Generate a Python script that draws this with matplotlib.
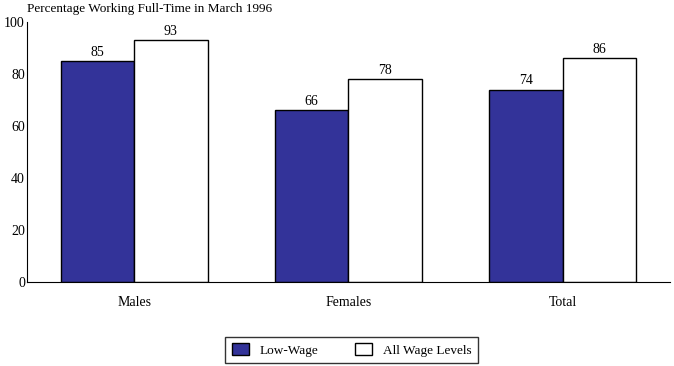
import matplotlib.pyplot as plt
import numpy as np

plt.rcParams['font.family'] = ['Liberation Serif', 'DejaVu Serif']

groups = ['Males', 'Females', 'Total']
low_wage = [85, 66, 74]
all_wage = [93, 78, 86]

fig = plt.figure(figsize=(6.74, 3.66), dpi=100)
ax = fig.add_axes([0.04, 0.2295, 0.954, 0.7105])

x = np.arange(len(groups))
w = 0.343
b1 = ax.bar(x - w / 2, low_wage, w, color='#333399', edgecolor='black', linewidth=1, label='Low-Wage')
b2 = ax.bar(x + w / 2, all_wage, w, color='white', edgecolor='black', linewidth=1, label='All Wage Levels')

for bars, vals in ((b1, low_wage), (b2, all_wage)):
    for b, v in zip(bars, vals):
        ax.text(b.get_x() + b.get_width() / 2, v + 0.8, str(v), ha='center', va='bottom', fontsize=10)

ax.set_xlim(-0.5, 2.5)
ax.set_ylim(0, 100)
ax.set_yticks([0, 20, 40, 60, 80, 100])
ax.set_xticks(x)
ax.set_xticklabels(groups)
ax.tick_params(length=0, labelsize=10)
ax.tick_params(axis='x', pad=10)
ax.tick_params(axis='y', pad=1.5)
ax.spines['top'].set_visible(False)
ax.spines['right'].set_visible(False)

fig.text(0.04, 0.975, 'Percentage Working Full-Time in March 1996', fontsize=9.5, va='center', ha='left')

leg = fig.legend(loc='center', bbox_to_anchor=(0.5215, 0.0437), ncol=2, frameon=True,
                 fancybox=False, edgecolor='black', fontsize=9.5, columnspacing=2.8,
                 handlelength=1.3, handleheight=1.0, borderpad=0.5, borderaxespad=0)
leg.get_frame().set_linewidth(1)

fig.savefig('out.png', dpi=100)
